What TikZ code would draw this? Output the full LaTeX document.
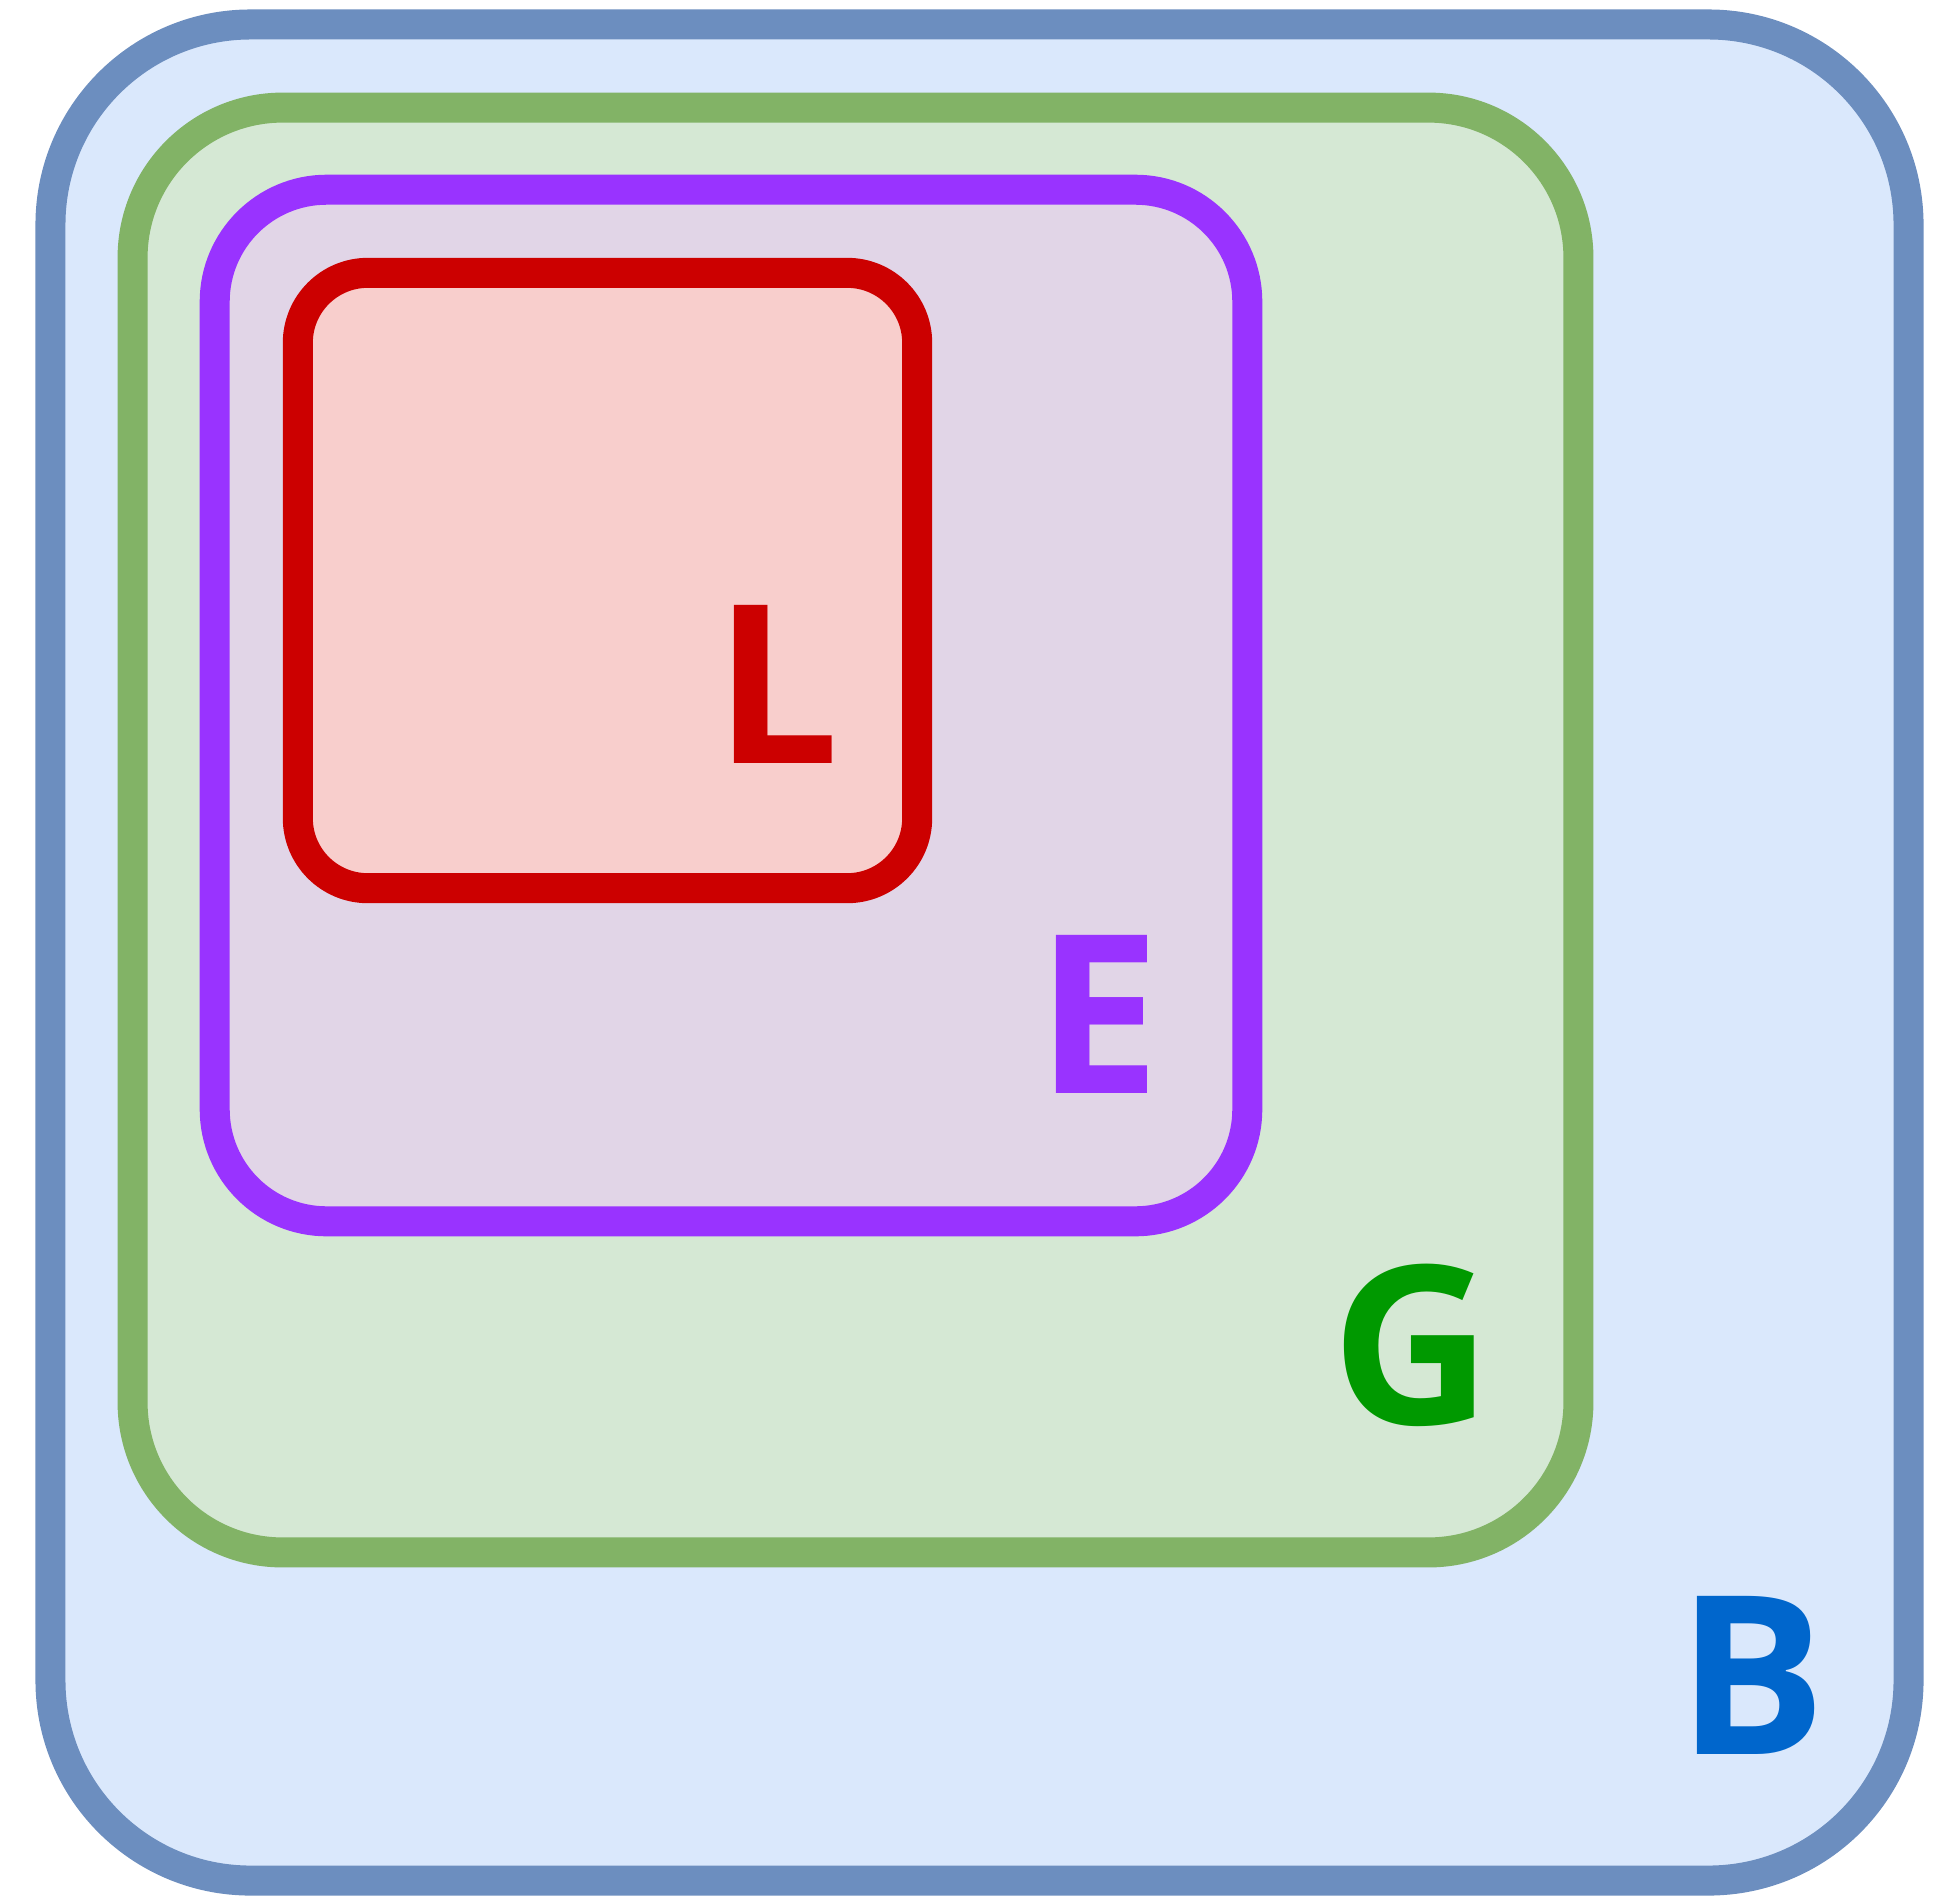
\documentclass[tikz,border=0pt]{standalone}
\usepackage{fontspec}
\setsansfont{Open Sans}
\definecolor{bline}{HTML}{6C8EBF}
\definecolor{bfill}{HTML}{DAE8FC}
\definecolor{gline}{HTML}{82B366}
\definecolor{gfill}{HTML}{D5E8D4}
\definecolor{eline}{HTML}{9933FF}
\definecolor{efill}{HTML}{E1D5E7}
\definecolor{lline}{HTML}{CC0000}
\definecolor{lfill}{HTML}{F8CECC}
\definecolor{btext}{HTML}{0066CC}
\definecolor{gtext}{HTML}{009900}
\tikzset{
	setbox/.style={rectangle, line width=0.3cm, inner sep=0pt},
	setname/.style={inner sep=0pt, font=\sffamily\bfseries\fontsize{63}{63}\selectfont}
}

\begin{document}
\begin{tikzpicture}[x=0.01cm, y=-0.01cm]
	\useasboundingbox (0, 0) rectangle (1957, 1896);
	% Nested sets:
	\node[setbox, draw=bline, fill=bfill, rounded corners=2cm, minimum width=18.57cm, minimum height=18.55cm] (B) at (979.5, 952.5){};
	\node[setbox, draw=gline, fill=gfill, rounded corners=1.5cm, minimum width=14.45cm, minimum height=14.44cm] (G) at (855.5, 830){};
	\node[setbox, draw=eline, fill=efill, rounded corners=1.12cm, minimum width=10.32cm, minimum height=10.31cm] (E) at (731, 705.5){};
	\node[setbox, draw=lline, fill=lfill, rounded corners=0.7cm, minimum width=6.19cm, minimum height=6.15cm] (L) at (607.5, 580.5){};
	% Labels:
	\node[setname, text=btext] (Bname) at (1752, 1675){B};
	\node[setname, text=gtext] (Gname) at (1412, 1345){G};
	\node[setname, text=eline] (Ename) at (1099, 1014){E};
	\node[setname, text=lline] (Lname) at (777, 684){L};
\end{tikzpicture}
\end{document}
